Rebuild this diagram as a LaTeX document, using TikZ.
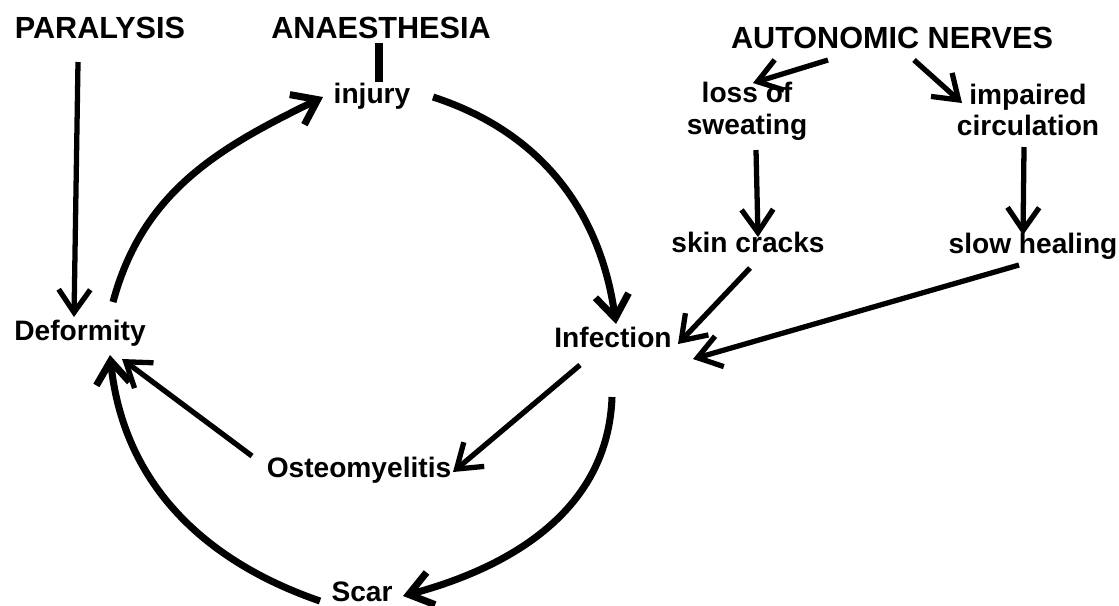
\documentclass[tikz,border=0pt]{standalone}
\usepackage{fontspec}
\setmainfont{Liberation Sans}
\usetikzlibrary{arrows.meta}

\tikzset{
  lbl/.style={font=\bfseries\fontsize{8}{9}\selectfont, inner sep=0pt, align=center},
  hdr/.style={font=\bfseries\fontsize{8.7}{10}\selectfont, inner sep=0pt},
  link/.style={line width=1.5pt, -{Straight Barb[length=6.5pt,width=9pt]}},
  ring/.style={line width=2pt, -{Straight Barb[length=6.5pt,width=9.5pt]}},
}

\begin{document}
\begin{tikzpicture}[x=0.01cm,y=0.01cm]
\useasboundingbox (0,0) rectangle (1119,-605);
% causes
\node[hdr] (paral) at (100,-28) {PARALYSIS};
\node[hdr] (anaes) at (381,-28) {ANAESTHESIA};
\node[hdr] (auton) at (892,-38) {AUTONOMIC NERVES};
% the cycle
\node[lbl] (injury) at (372,-96) {injury};
\node[lbl] (infect) at (613,-337) {Infection};
\node[lbl] (scar) at (362,-592) {Scar};
\node[lbl] (deform) at (80,-333) {Deformity};
\node[lbl] (osteo) at (359,-470) {Osteomyelitis};
% autonomic branch
\node[lbl] (loss) at (747,-111) {loss of\\sweating};
\node[lbl] (impair) at (1028,-110) {impaired\\circulation};
\node[lbl] (skin) at (748,-242) {skin cracks};
\node[lbl] (slow) at (1033,-246) {slow healing};

\draw[link] ([shift={(-22,-34)}]paral.center) -- ([shift={(-6,16)}]deform.center);
\draw[line width=2pt] ([shift={(-2,-15)}]anaes.center) -- ([shift={(7,14)}]injury.center);

\draw[ring] ([shift={(33,31)}]deform.center) to[out=75,in=206] ([shift={(-49,-1)}]injury.center);
\draw[ring] ([shift={(61,-1)}]injury.center) to[out=-18,in=98] ([shift={(3,13)}]infect.center);
\draw[ring] ([shift={(-1,-60)}]infect.center) to[out=-92,in=15] ([shift={(41,-4)}]scar.center);
\draw[ring] ([shift={(-42,-9)}]scar.center) to[out=161,in=276] ([shift={(30,-22)}]deform.center);

\draw[link] ([shift={(-107,14)}]osteo.center) -- ([shift={(42,-26)}]deform.center);
\draw[link] ([shift={(-33,-28)}]infect.center) -- ([shift={(94,-2)}]osteo.center);

\draw[link] ([shift={(-64,-22)}]auton.center) -- ([shift={(6,28)}]loss.center);
\draw[link] ([shift={(22,-22)}]auton.center) -- ([shift={(-66,7)}]impair.center);
\draw[link] ([shift={(9,-39)}]loss.center) -- ([shift={(10,5)}]skin.center);
\draw[link] ([shift={(-4,-37)}]impair.center) -- ([shift={(-10,11)}]slow.center);
\draw[link] ([shift={(2,-26)}]skin.center) -- ([shift={(65,-7)}]infect.center);
\draw[link] ([shift={(-14,-19)}]slow.center) -- ([shift={(80,-22)}]infect.center);
\end{tikzpicture}
\end{document}
